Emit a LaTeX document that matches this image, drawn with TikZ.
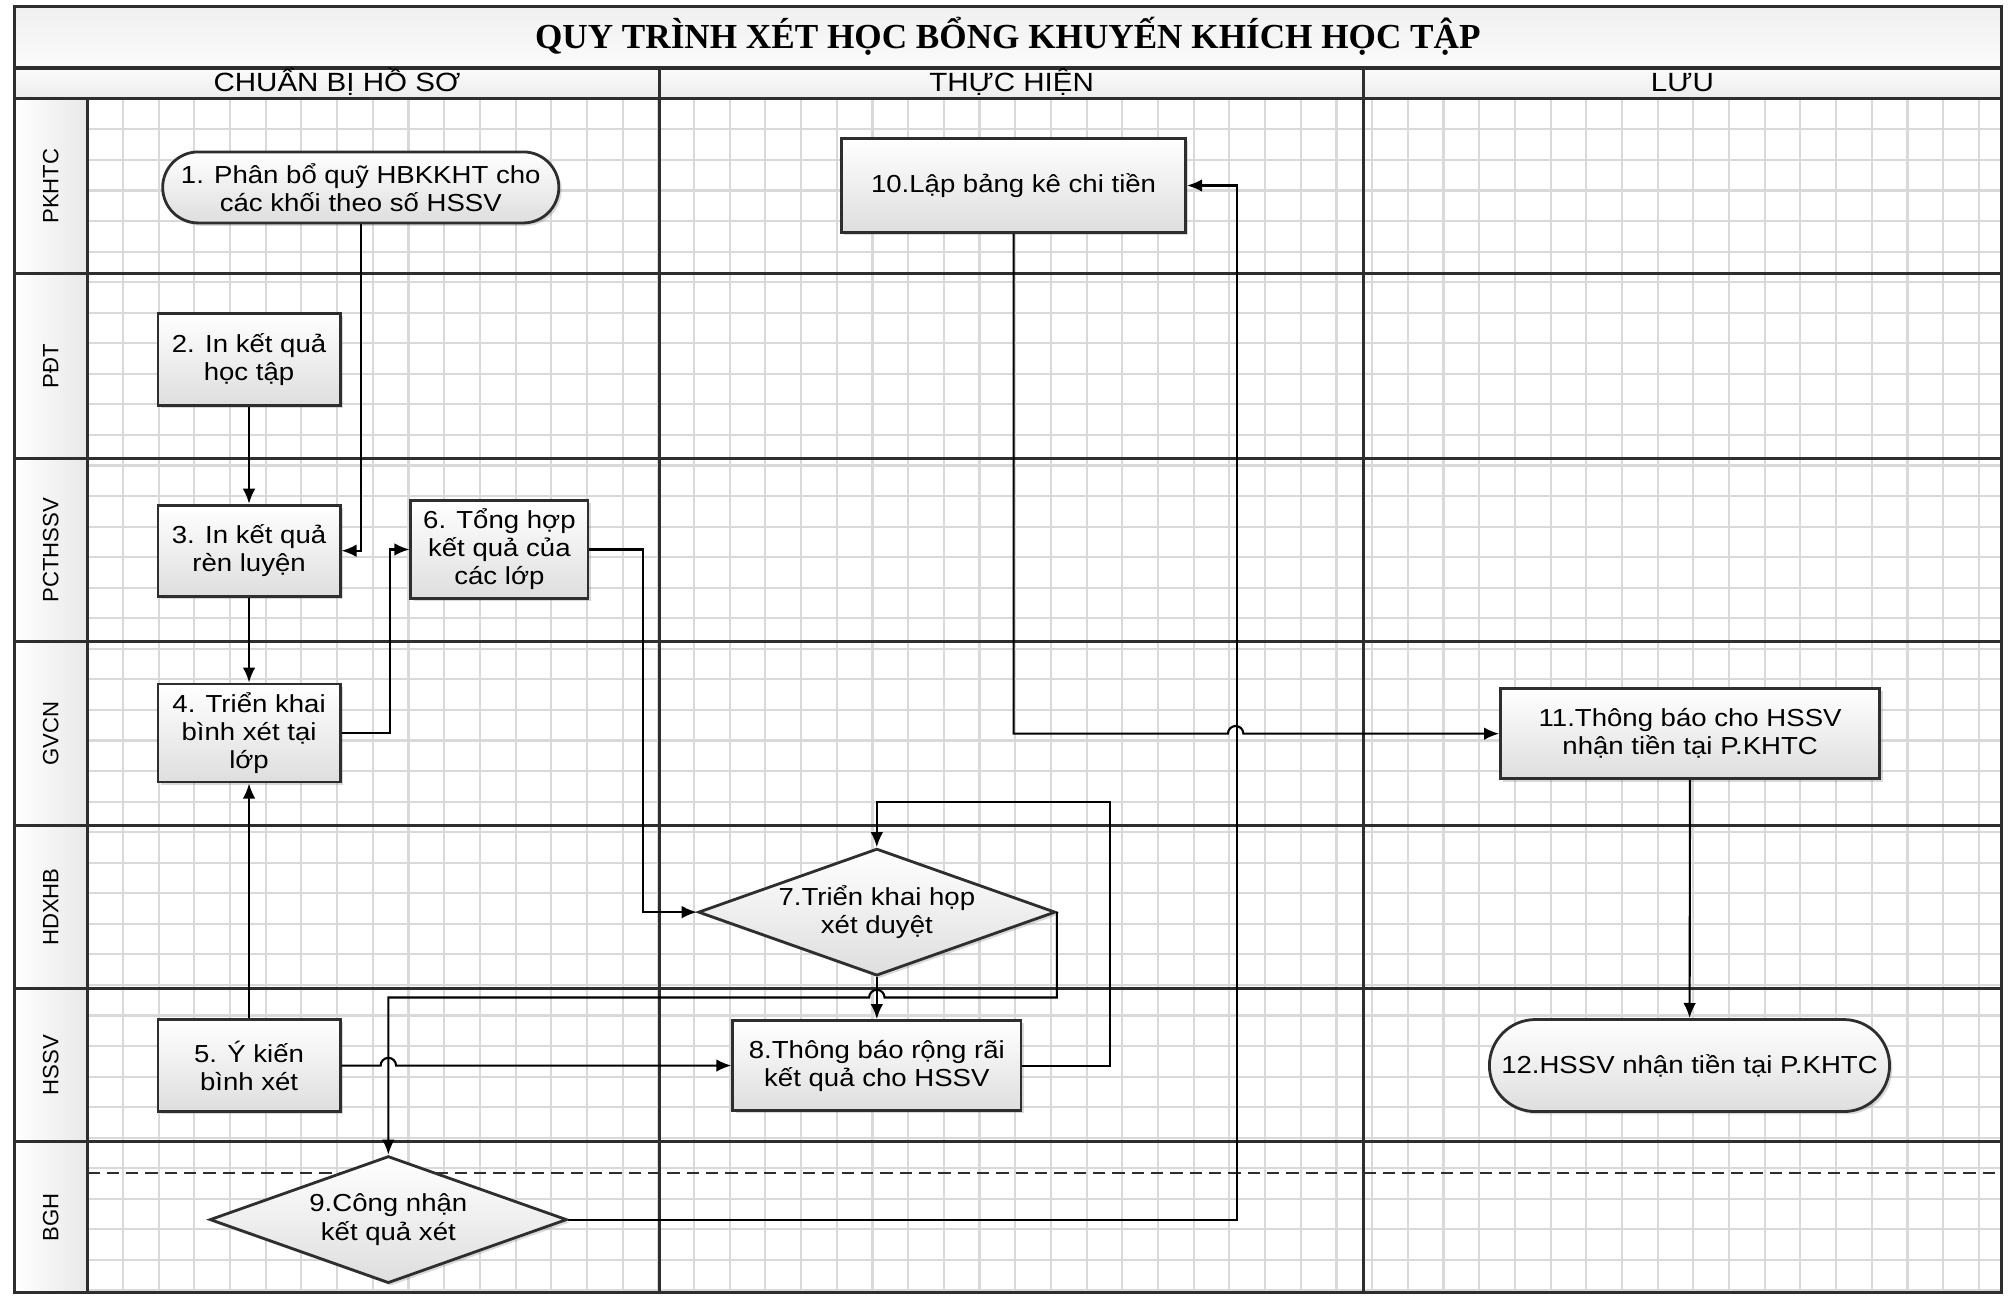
\documentclass[tikz,border=0pt]{standalone}
\usepackage{fontspec}
\setmainfont{Liberation Sans}[FakeStretch=1.12]
\newfontfamily\titlefont{Liberation Serif}
\newfontfamily\lanefont{Liberation Sans}
\usepackage{xcolor}
\definecolor{linegray}{rgb}{0.18,0.18,0.18}
\definecolor{gridgray}{rgb}{0.85,0.85,0.85}
\definecolor{boxgray}{rgb}{0.87,0.87,0.87}
\usepackage{tikz}
\usetikzlibrary{arrows.meta, calc, positioning, shapes.geometric, shapes.misc, shadows}

\begin{document}
\begin{tikzpicture}[
  x=0.012838cm, y=-0.012838cm,
  gridline/.style={draw=gridgray, line width=0.6pt},
  lane/.style={draw=linegray, line width=0.9pt},
  box/.style={draw=linegray, line width=0.8pt, top color=white, bottom color=boxgray, align=center, font=\fontsize{7}{8}\selectfont, inner sep=1pt, drop shadow={shadow xshift=0.8pt, shadow yshift=-0.8pt, opacity=0.3}},
  termbox/.style={box, rounded rectangle},
  decbox/.style={box, diamond, aspect=2.8, inner sep=0pt},
  lanelabel/.style={rotate=90, font=\lanefont\fontsize{6.3}{7}\selectfont},
  colhead/.style={font=\fontsize{7.5}{9}\selectfont},
  conn/.style={draw=black, line width=0.6pt, -{Latex[length=4.3pt,width=3.6pt]}}
]
\useasboundingbox (0,0) rectangle (1568,1009);
\shade[top color=gray!12, bottom color=gray!3] (11,5) rectangle (1559,53);
\shade[top color=gray!3, bottom color=gray!15] (11,53) rectangle (1559,77);
\shade[left color=white, right color=gray!18] (11,77) rectangle (68,1007);
\foreach \i in {0,...,53} \draw[gridline] ({68+27.8*\i},77) -- ({68+27.8*\i},1007);
\foreach \j in {1,...,39} \draw[gridline] (68,{77+23.8*\j}) -- (1559,{77+23.8*\j});
\draw[lane] (11,5) rectangle (1559,1007);
\draw[lane] (11,53) -- (1559,53);
\draw[lane] (11,77) -- (1559,77);
\foreach \ly in {213,357,500,643,770,889} \draw[lane] (11,\ly) -- (1559,\ly);
\draw[lane] (68,77) -- (68,1007);
\draw[lane] (514,53) -- (514,1007);
\draw[lane] (1062,53) -- (1062,1007);
\draw[linegray, line width=0.7pt, dash pattern=on 3.5pt off 2pt] (68,913.5) -- (1559,913.5);

\node[font=\titlefont\bfseries\fontsize{10}{12}\selectfont] (title) at (785,28) {QUY TRÌNH XÉT HỌC BỔNG KHUYẾN KHÍCH HỌC TẬP};
\node[colhead] (hprep) at (262.5,64) {CHUẨN BỊ HỒ SƠ};
\node[colhead] (hexec) at (788,64) {THỰC HIỆN};
\node[colhead] (hstore) at (1310.5,64) {LƯU};

\node[lanelabel] (lpkhtc) at (39.5,145) {PKHTC};
\node[lanelabel] (lpdt) at (39.5,285) {PĐT};
\node[lanelabel] (lpcthssv) at (39.5,428.5) {PCTHSSV};
\node[lanelabel] (lgvcn) at (39.5,571.5) {GVCN};
\node[lanelabel] (lhdxhb) at (39.5,706.5) {HDXHB};
\node[lanelabel] (lhssv) at (39.5,829.5) {HSSV};
\node[lanelabel] (lbgh) at (39.5,948) {BGH};

\node[termbox, minimum width=4.03cm, minimum height=0.71cm] (n1) at (281,146) {1. Phân bổ quỹ HBKKHT cho\\các khối theo số HSSV};
\node[box, minimum width=3.44cm, minimum height=0.94cm] (n10) at (789.5,144.5) {10.Lập bảng kê chi tiền};
\node[box, minimum width=1.82cm, minimum height=0.92cm] (n2) at (194,280) {2. In kết quả\\học tập};
\node[box, minimum width=1.82cm, minimum height=0.91cm] (n3) at (194,429) {3. In kết quả\\rèn luyện};
\node[box, minimum width=1.77cm, minimum height=0.98cm] (n6) at (389,428) {6. Tổng hợp\\kết quả của\\các lớp};
\node[box, minimum width=1.82cm, minimum height=0.98cm] (n4) at (194,571) {4. Triển khai\\bình xét tại\\lớp};
\node[box, minimum width=1.82cm, minimum height=0.92cm] (n5) at (194,830) {5. Ý kiến\\bình xét};
\node[decbox, minimum width=3.57cm, minimum height=1.27cm] (n7) at (683,710.5) {7.Triển khai họp\\xét duyệt};
\node[box, minimum width=2.88cm, minimum height=0.9cm] (n8) at (683,830) {8.Thông báo rộng rãi\\kết quả cho HSSV};
\node[decbox, minimum width=3.57cm, minimum height=1.27cm] (n9) at (302.5,950) {9.Công nhận\\kết quả xét};
\node[box, minimum width=3.79cm, minimum height=0.9cm] (n11) at (1316.5,571.5) {11.Thông báo cho HSSV\\nhận tiền tại P.KHTC};
\node[termbox, minimum width=4.07cm, minimum height=0.92cm] (n12) at (1316,830) {12.HSSV nhận tiền tại P.KHTC};

\draw[conn] (n1.south) |- (n3.east);
\draw[conn] (n2) -- (n3);
\draw[conn] (n3) -- (n4);
\draw[conn] (n4.east) -- ++(37.5,0) |- (n6.west);
\draw[conn] (n6.east) -- ++(42,0) |- (n7.west);
\draw[conn] (n5) -- (n4);
\draw[conn] (n5.east) -- (296.5,830) arc[start angle=180, end angle=0, radius=0.077cm] -- (n8.west);
\draw[conn] (n7) -- (n8);
\draw[conn] (n7.east) -- ++(0,66.5) -- (689,777) arc[start angle=0, end angle=180, radius=0.077cm] -- (n9.north |- 0,777) -- (n9.north);
\draw[conn] (n8.east) -- ++(68,0) -- ++(0,-205) -| (n7.north);
\draw[conn] (n9.east) -| ($(n10.east)+(39,0)$) -- (n10.east);
\draw[conn] (n10.south) |- (956.5,571.5) arc[start angle=180, end angle=0, radius=0.077cm] -- (n11.west);
\draw[conn] (n11) -- (n12);
\end{tikzpicture}
\end{document}
